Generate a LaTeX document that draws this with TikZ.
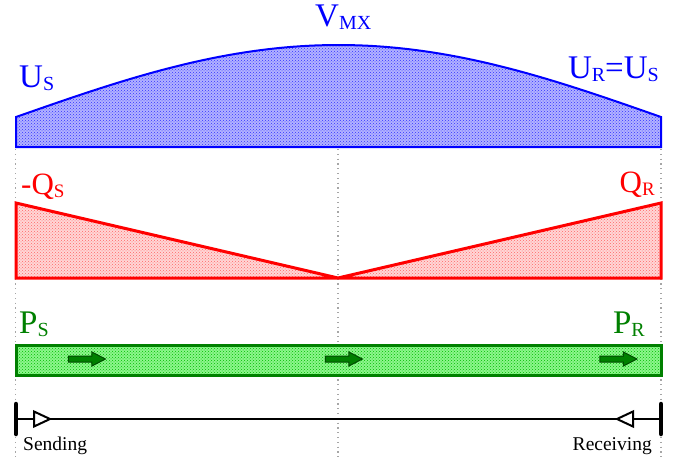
\documentclass[tikz,border=0pt]{standalone}
\usepackage{fontspec}
\setmainfont{Liberation Serif}
\definecolor{volt}{RGB}{0,0,255}
\definecolor{react}{RGB}{255,0,0}
\definecolor{act}{RGB}{0,128,0}
\definecolor{actlight}{RGB}{0,235,0}
\usetikzlibrary{arrows.meta,patterns,shapes.arrows,decorations.markings}
\newcommand\lowsub[2][20]{\raisebox{-3pt}{\fontsize{#1}{#1}\selectfont #2}}
\tikzset{
  biglbl/.style={font=\fontsize{33}{33}\selectfont, inner sep=0pt},
  qlbl/.style={font=\fontsize{31}{31}\selectfont, inner sep=0pt, text=react},
  endlbl/.style={font=\fontsize{19.5}{19.5}\selectfont, inner sep=0pt},
  guide/.style={black!35, line width=1.2pt, dash pattern=on 1.2pt off 3.6pt},
  vband/.style={draw=volt, line width=2pt, preaction={fill=volt!30},
                pattern=crosshatch dots, pattern color=volt!80},
  qband/.style={draw=react, line width=3pt, line join=miter, preaction={fill=react!16},
                pattern=crosshatch dots, pattern color=react!60},
  pband/.style={draw=act, line width=3pt, preaction={fill=actlight!45},
                pattern=crosshatch dots, pattern color=actlight!80!black},
  pflow/.style={shape=single arrow, draw=act!60!black, fill=act, line width=1pt,
                inner xsep=0pt, inner ysep=2.5pt, minimum height=37pt,
                single arrow head extend=4pt, single arrow tip angle=55},
  endbar/.style={line width=4.5pt, line cap=round},
  opentip/.style={draw=black, fill=white, line width=2pt, line join=miter},
  axis/.style={line width=2.2pt, postaction={decorate}, decoration={markings,
      mark=at position 34pt with {\draw[opentip] (0,0) -- (-16,7.5) -- (-16,-7.5) -- cycle;},
      mark=at position 601pt with {\draw[opentip] (0,0) -- (16,7.5) -- (16,-7.5) -- cycle;}}},
}
\begin{document}
\begin{tikzpicture}[x=1pt,y=-1pt]
  \useasboundingbox (0,0) rectangle (681,461);
  % guides
  \foreach \gx in {15.5,338,661} \draw[guide] (\gx,149) -- (\gx,458);
  % voltage profile
  \draw[vband] (16,147) -- (16,117)
    -- plot[domain=16:661, samples=80] (\x,{117-72*sin(0.27907*(\x-16))})
    -- (661,147) -- cycle;
  \node[biglbl, text=volt, anchor=base west] (us) at (19,87) {U\lowsub{S}};
  \node[biglbl, text=volt, anchor=base west] (vmx) at (315,26) {V\lowsub{MX}};
  \node[biglbl, text=volt, anchor=base east] (ur) at (659,78) {U\lowsub{R}=U\lowsub{S}};
  % reactive power
  \draw[qband] (16,203) -- (338,278) -- (661,203) -- (661,278) -- (16,278) -- cycle;
  \node[qlbl, anchor=base west] (qs) at (21,194) {-Q\lowsub[19]{S}};
  \node[qlbl, anchor=base east] (qr) at (655,192) {Q\lowsub[19]{R}};
  % active power
  \draw[pband] (16,345) rectangle (661,375);
  \node[pflow] (pa1) at (84,359) {};
  \node[pflow] (pa2) at (341,359) {};
  \node[pflow] (pa3) at (615.5,359) {};
  \node[biglbl, text=act, anchor=base west] (ps) at (19,333) {P\lowsub{S}};
  \node[biglbl, text=act, anchor=base east] (pr) at (645,333) {P\lowsub{R}};
  % line ends
  \coordinate (send) at (16,419);
  \coordinate (recv) at (661,419);
  \draw[axis] (send) -- (recv);
  \draw[endbar] ([yshift=-15pt]send) -- ([yshift=15pt]send);
  \draw[endbar] ([yshift=-15pt]recv) -- ([yshift=15pt]recv);
  \node[endlbl, anchor=base west] (sendlbl) at (23,450) {Sending};
  \node[endlbl, anchor=base east] (recvlbl) at (652,450) {Receiving};
\end{tikzpicture}
\end{document}
